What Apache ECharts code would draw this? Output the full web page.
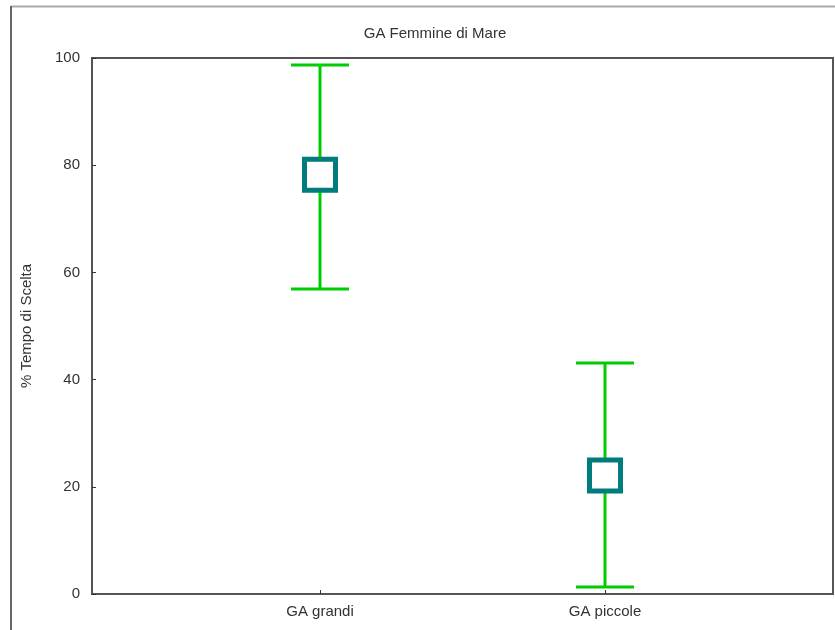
<!DOCTYPE html>
<html>
<head>
<meta charset="utf-8">
<script src="https://cdn.jsdelivr.net/npm/echarts@6/dist/echarts.min.js"></script>
<style>
  html, body { margin: 0; padding: 0; background: #fff; }
  #main { width: 835px; height: 630px; }
</style>
</head>
<body>
<div id="main"></div>
<script>
// categories and values
var categories = ['GA grandi', 'GA piccole'];
var means = [78.2, 22.1];
var upper = [98.7, 43.1];
var lower = [56.9, 1.3];
var yTicks = [0, 20, 40, 60, 80, 100];

var chart = echarts.init(document.getElementById('main'));

var barData = categories.map(function (c, i) {
  return [i + 1, lower[i], upper[i]];
});
var meanData = categories.map(function (c, i) {
  return [i + 1, means[i]];
});

var font = 'Liberation Sans Narrow, Liberation Sans, sans-serif';

var option = {
  backgroundColor: '#fff',
  animation: false,
  title: {
    text: 'GA Femmine di Mare',
    left: 430,
    textAlign: 'center',
    top: 21,
    textStyle: { fontFamily: font, fontSize: 15, fontWeight: 'normal', color: '#333' }
  },
  graphic: [
    // outer frame (top and left edges)
    { type: 'line', shape: { x1: 11, y1: 6.5, x2: 835, y2: 6.5 }, style: { stroke: '#aaa', lineWidth: 2 } },
    { type: 'line', shape: { x1: 11, y1: 6, x2: 11, y2: 630 }, style: { stroke: '#666', lineWidth: 2 } }
  ],
  grid: {
    left: 92, right: 2, top: 58, bottom: 36,
    show: true, borderColor: '#555', borderWidth: 2, backgroundColor: 'transparent'
  },
  xAxis: {
    type: 'value',
    min: 0.2,
    max: 2.8,
    splitLine: { show: false },
    axisLine: { show: true, onZero: false, lineStyle: { color: '#555', width: 2 } },
    axisTick: { show: true, inside: true, length: 4, customValues: [1, 2], lineStyle: { color: '#333' } },
    axisLabel: {
      customValues: [1, 2],
      margin: 10,
      fontFamily: font, fontSize: 15, color: '#333',
      formatter: function (v) { return categories[Math.round(v) - 1] || ''; }
    }
  },
  yAxis: {
    type: 'value',
    min: 0,
    max: 100,
    interval: 20,
    name: '% Tempo di Scelta',
    nameLocation: 'middle',
    nameGap: 58,
    nameTextStyle: { fontFamily: font, fontSize: 15, color: '#333' },
    splitLine: { show: false },
    axisLine: { show: true, lineStyle: { color: '#555', width: 2 } },
    axisTick: { show: true, inside: true, length: 4, lineStyle: { color: '#333' } },
    axisLabel: {
      margin: 12,
      fontFamily: font, fontSize: 15, color: '#333',
      formatter: function (v) { return yTicks.indexOf(v) >= 0 ? String(v) : ''; }
    }
  },
  series: [
    {
      type: 'custom',
      data: barData,
      z: 2,
      renderItem: function (params, api) {
        var x = api.value(0);
        var lo = api.coord([x, api.value(1)]);
        var hi = api.coord([x, api.value(2)]);
        var half = 29;
        var style = { stroke: '#00cc00', lineWidth: 3 };
        return {
          type: 'group',
          children: [
            { type: 'line', shape: { x1: hi[0], y1: hi[1], x2: lo[0], y2: lo[1] }, style: style },
            { type: 'line', shape: { x1: hi[0] - half, y1: hi[1], x2: hi[0] + half, y2: hi[1] }, style: style },
            { type: 'line', shape: { x1: lo[0] - half, y1: lo[1], x2: lo[0] + half, y2: lo[1] }, style: style }
          ]
        };
      }
    },
    {
      type: 'scatter',
      data: meanData,
      z: 3,
      symbol: 'rect',
      symbolSize: 31,
      itemStyle: { color: '#fff', borderColor: '#007c7c', borderWidth: 5, opacity: 1 }
    }
  ]
};

chart.setOption(option);
</script>
</body>
</html>
